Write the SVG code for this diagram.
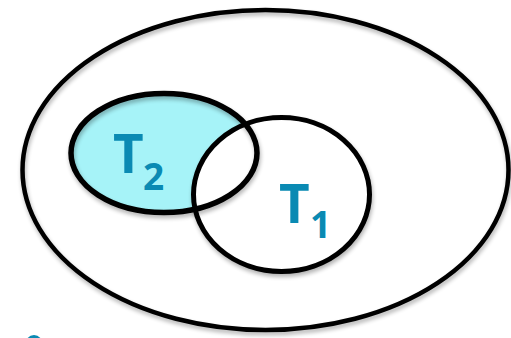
<svg xmlns="http://www.w3.org/2000/svg" width="511" height="338" viewBox="0 0 511 338">
<style>
.ln{fill:none;stroke:#000;stroke-width:5}
.lbl{font-family:"Open Sans","Liberation Sans",sans-serif;font-weight:bold;fill:#0A8AB3}
.big{font-size:53px}
.sub{font-size:37px}
</style>
<defs>
<filter id="sh" x="-10%" y="-10%" width="120%" height="130%">
<feGaussianBlur in="SourceAlpha" stdDeviation="2"/>
<feOffset dx="1" dy="3"/>
<feComponentTransfer><feFuncA type="linear" slope="0.3"/></feComponentTransfer>
<feMerge><feMergeNode/><feMergeNode in="SourceGraphic"/></feMerge>
</filter>
</defs>
<g id="universe">
<ellipse cx="265.5" cy="170" rx="243" ry="160" class="ln" style="stroke-width:4.5" filter="url(#sh)"/>
</g>
<g id="T2fill">
<ellipse cx="164" cy="153" rx="93" ry="59.5" style="fill:#A6F3F8;stroke:none"/>
</g>
<g id="T1">
<ellipse cx="281.5" cy="194.5" rx="88" ry="77" class="ln" style="fill:#fff" filter="url(#sh)"/>
<text class="lbl big" x="279" y="223">T</text>
<text class="lbl sub" x="310" y="238">1</text>
</g>
<g id="T2">
<ellipse cx="164" cy="153" rx="93" ry="59.5" class="ln" style="stroke-width:5.5" filter="url(#sh)"/>
<text class="lbl big" x="113" y="173">T</text>
<text class="lbl sub" x="143" y="190">2</text>
</g>
<g id="partial">
<ellipse cx="34" cy="345" rx="9" ry="10" fill="#0A8AB3"/>
</g>
</svg>
